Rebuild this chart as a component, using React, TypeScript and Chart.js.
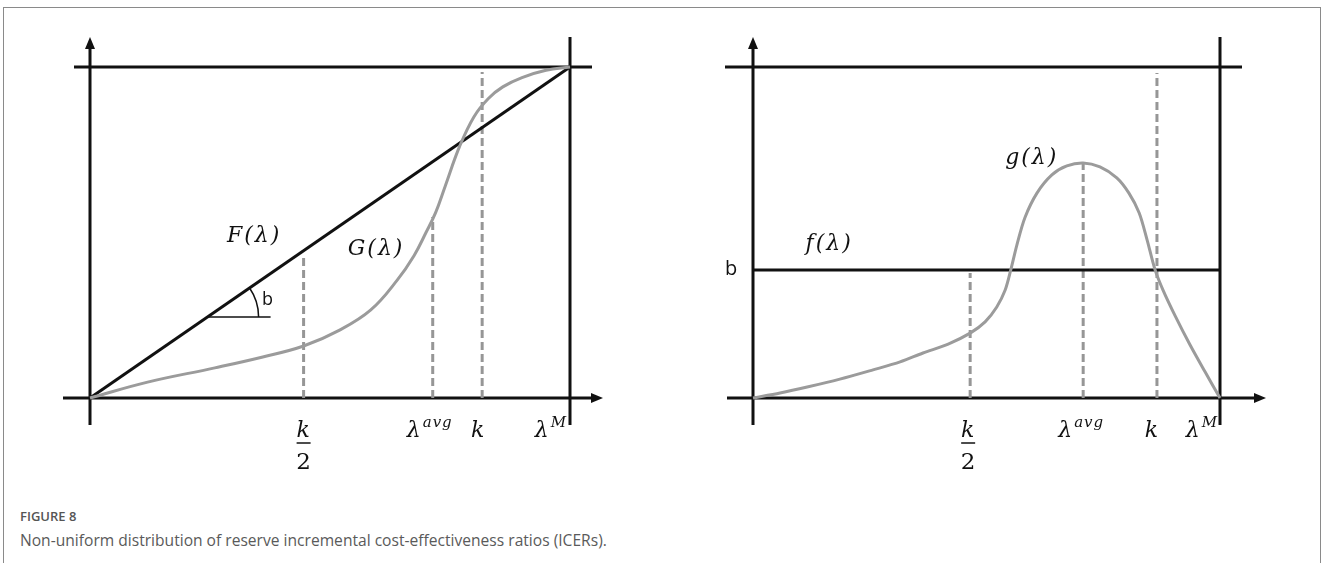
import React, { useEffect, useRef } from "react";
import { Chart, registerables } from "chart.js";

Chart.register(...registerables);

// ---------------- Data ----------------
const LAMBDA_MAX = 100;

// Left panel: cumulative distributions F(λ) (uniform) and G(λ) (non-uniform)
const cdfLambda = [0, 12, 26, 36, 44.5, 52, 58.5, 64, 67.5, 70, 72, 74, 77, 80, 83, 86, 90, 95, 100];
const cdfG = [0, 0.048, 0.091, 0.124, 0.157, 0.205, 0.266, 0.356, 0.43, 0.5, 0.56, 0.64, 0.76, 0.85, 0.905, 0.94, 0.968, 0.99, 1];
const cdfFLambda = [0, 100];
const cdfF = [0, 1];
const cdfMarkerLambda = [44.5, 71.4, 81.7]; // k/2, λavg, k
const cdfMarkerTop = [0.43, 0.547, 0.985];
const cdfTickLambda = [44.5, 71.4, 81.7, 100];

// Right panel: densities f(λ) (uniform, = b) and g(λ)
const pdfLambda = [0, 5.8, 11.6, 18.6, 25.7, 31.5, 36.4, 41.8, 46.5, 49.7, 52.2, 54.0, 55.2, 56.5, 58.2, 60.8, 64.0, 67.2, 70.7, 74.3, 77.9, 80.5, 82.7, 84.4, 86.1, 87.8, 90.4, 93.6, 96.8, 100];
const pdfG = [0, 0.015, 0.033, 0.057, 0.085, 0.109, 0.136, 0.163, 0.196, 0.23, 0.275, 0.326, 0.387, 0.462, 0.544, 0.619, 0.674, 0.701, 0.71, 0.698, 0.665, 0.619, 0.559, 0.477, 0.387, 0.326, 0.248, 0.16, 0.079, 0];
const pdfFLambda = [0, 100];
const pdfF = [0.387, 0.387];
const pdfMarkerLambda = [46.5, 70.7, 86.5];
const pdfMarkerTop = [0.378, 0.71, 0.982];
const pdfTickLambda = [46.5, 70.7, 86.5, 100];

// Tick labels: base symbol, superscript, denominator
const tickBase = ["k", "λ", "k", "λ"];
const tickSup = ["", "avg", "", "M"];
const tickDenom = ["2", "", "", ""];

// Curve labels
const cdfCurveNames = ["F(λ)", "G(λ)"];
const pdfCurveNames = ["f(λ)", "g(λ)"];
const slopeLabel = "b";

const CAPTION_TITLE = "FIGURE 8";
const CAPTION_TEXT = "Non-uniform distribution of reserve incremental cost-effectiveness ratios (ICERs).";

// ---------------- Styles ----------------
const BLACK = "#111111";
const GREY = "#9b9b9b";
const DASH_GREY = "#969696";
const MATH_FONT = 'italic 22px "DejaVu Serif"';
const SUP_FONT = 'italic 15px "DejaVu Serif"';
const NUM_FONT = '23px "DejaVu Serif"';
const SANS_LABEL = '20px "Open Sans"';

const zip = (xs: number[], ys: number[]) => xs.map((x, i) => ({ x, y: ys[i] }));

type PanelCfg = {
  kind: "cdf" | "pdf";
  xAxisExt: [number, number];
  topExt: [number, number];
  tickLambda: number[];
  tickShift: number[];
  tension: number;
  labels: { text: string; x: number; y: number }[];
};

function drawMathLabel(ctx: CanvasRenderingContext2D, base: string, sup: string, cx: number, baseline: number) {
  ctx.save();
  (ctx as any).letterSpacing = "1px";
  ctx.font = MATH_FONT;
  const wb = ctx.measureText(base).width;
  ctx.font = SUP_FONT;
  const ws = sup ? ctx.measureText(sup).width + 1 : 0;
  const start = cx - (wb + ws) / 2;
  ctx.fillStyle = BLACK;
  ctx.textAlign = "left";
  ctx.textBaseline = "alphabetic";
  ctx.font = MATH_FONT;
  ctx.fillText(base, start, baseline);
  if (sup) {
    ctx.font = SUP_FONT;
    ctx.fillText(sup, start + wb + 1, baseline - 10);
  }
  ctx.restore();
}

function framePlugin(cfg: PanelCfg) {
  return {
    id: "frame-" + cfg.kind,
    beforeDatasetsDraw(chart: any) {
      const ctx: CanvasRenderingContext2D = chart.ctx;
      const xs = chart.scales.x;
      const ys = chart.scales.y;
      const x0 = xs.getPixelForValue(0);
      const xM = xs.getPixelForValue(LAMBDA_MAX);
      const y0 = ys.getPixelForValue(0);
      const y1 = ys.getPixelForValue(1);
      ctx.save();
      ctx.strokeStyle = BLACK;
      ctx.fillStyle = BLACK;
      ctx.lineWidth = 3;
      ctx.lineCap = "butt";
      const line = (ax: number, ay: number, bx: number, by: number) => {
        ctx.beginPath();
        ctx.moveTo(ax, ay);
        ctx.lineTo(bx, by);
        ctx.stroke();
      };
      // y axis with arrow
      line(x0, y1 - 20, x0, y0 + 27);
      ctx.beginPath();
      ctx.moveTo(x0, y1 - 30);
      ctx.lineTo(x0 - 5, y1 - 18);
      ctx.lineTo(x0 + 5, y1 - 18);
      ctx.closePath();
      ctx.fill();
      // right vertical at λM
      line(xM, y1 - 30, xM, y0 + 27);
      // top line at 1
      line(x0 - cfg.topExt[0], y1, xM + cfg.topExt[1], y1);
      // x axis with arrow
      const xEnd = xM + cfg.xAxisExt[1];
      line(x0 - cfg.xAxisExt[0], y0, xEnd - 10, y0);
      ctx.beginPath();
      ctx.moveTo(xEnd, y0);
      ctx.lineTo(xEnd - 12, y0 - 5);
      ctx.lineTo(xEnd - 12, y0 + 5);
      ctx.closePath();
      ctx.fill();
      ctx.restore();
    },
    afterDatasetsDraw(chart: any) {
      const ctx: CanvasRenderingContext2D = chart.ctx;
      const xs = chart.scales.x;
      const ys = chart.scales.y;
      const y0 = ys.getPixelForValue(0);
      ctx.save();
      // tick labels
      cfg.tickLambda.forEach((v, i) => {
        const cx = xs.getPixelForValue(v) + cfg.tickShift[i];
        drawMathLabel(ctx, tickBase[i], tickSup[i], cx, y0 + 39);
        if (tickDenom[i]) {
          ctx.strokeStyle = BLACK;
          ctx.lineWidth = 1.5;
          ctx.beginPath();
          ctx.moveTo(cx - 7, y0 + 45);
          ctx.lineTo(cx + 7, y0 + 45);
          ctx.stroke();
          ctx.font = NUM_FONT;
          ctx.fillStyle = BLACK;
          ctx.textAlign = "center";
          ctx.textBaseline = "alphabetic";
          ctx.fillText(tickDenom[i], cx, y0 + 71);
        }
      });
      // curve labels
      cfg.labels.forEach((l) => {
        ctx.font = MATH_FONT;
        (ctx as any).letterSpacing = "2px";
        ctx.fillStyle = BLACK;
        ctx.textAlign = "center";
        ctx.textBaseline = "middle";
        ctx.fillText(l.text, xs.getPixelForValue(l.x), ys.getPixelForValue(l.y));
      });
      (ctx as any).letterSpacing = "0px";
      ctx.font = SANS_LABEL;
      ctx.fillStyle = BLACK;
      ctx.textBaseline = "middle";
      if (cfg.kind === "cdf") {
        // slope angle marker on F(λ)
        const yv = 0.245;
        const ax = xs.getPixelForValue(yv * LAMBDA_MAX);
        const ay = ys.getPixelForValue(yv);
        const ang = Math.atan2(ys.getPixelForValue(0) - ys.getPixelForValue(1), xs.getPixelForValue(LAMBDA_MAX) - xs.getPixelForValue(0));
        ctx.strokeStyle = BLACK;
        ctx.lineWidth = 1.5;
        ctx.beginPath();
        ctx.moveTo(ax, ay);
        ctx.lineTo(ax + 63, ay);
        ctx.stroke();
        ctx.beginPath();
        ctx.arc(ax, ay, 51, -ang, 0);
        ctx.stroke();
        ctx.font = '18px "Open Sans"';
        ctx.textAlign = "center";
        ctx.fillText(slopeLabel, ax + 60, ay - 17);
      } else {
        ctx.textAlign = "center";
        ctx.fillText(slopeLabel, xs.getPixelForValue(0) - 22, ys.getPixelForValue(pdfF[0]) - 1);
      }
      ctx.restore();
    },
  };
}

function buildDatasets(cfg: PanelCfg) {
  const kind = cfg.kind;
  const solidLambda = kind === "cdf" ? cdfFLambda : pdfFLambda;
  const solidVals = kind === "cdf" ? cdfF : pdfF;
  const curveLambda = kind === "cdf" ? cdfLambda : pdfLambda;
  const curveVals = kind === "cdf" ? cdfG : pdfG;
  const markX = kind === "cdf" ? cdfMarkerLambda : pdfMarkerLambda;
  const markTop = kind === "cdf" ? cdfMarkerTop : pdfMarkerTop;
  const ds: any[] = [];
  markX.forEach((m, i) => {
    ds.push({
      data: [{ x: m, y: 0 }, { x: m, y: markTop[i] }],
      borderColor: DASH_GREY,
      borderWidth: 3,
      borderDash: [8, 4],
      pointRadius: 0,
      clip: false,
      order: 3,
    });
  });
  ds.push({
    data: zip(solidLambda, solidVals),
    borderColor: BLACK,
    borderWidth: 3,
    pointRadius: 0,
    clip: false,
    order: 2,
  });
  ds.push({
    data: zip(curveLambda, curveVals),
    borderColor: GREY,
    borderWidth: 3,
    pointRadius: 0,
    tension: cfg.tension,
    clip: false,
    order: 1,
  });
  return ds;
}

function Panel({ cfg, left, width, height, padding }: { cfg: PanelCfg; left: number; width: number; height: number; padding: any }) {
  const ref = useRef<HTMLCanvasElement | null>(null);
  useEffect(() => {
    if (!ref.current) return;
    const chart = new Chart(ref.current, {
      type: "line",
      data: { datasets: buildDatasets(cfg) },
      options: {
        responsive: false,
        maintainAspectRatio: false,
        animation: false,
        events: [],
        layout: { padding },
        plugins: { legend: { display: false }, tooltip: { enabled: false }, title: { display: false } },
        scales: {
          x: { type: "linear", min: 0, max: LAMBDA_MAX, display: false },
          y: { type: "linear", min: 0, max: 1, display: false },
        },
      } as any,
      plugins: [framePlugin(cfg) as any],
    });
    return () => chart.destroy();
  }, []);
  return (
    <canvas
      ref={ref}
      width={width}
      height={height}
      style={{ position: "absolute", left, top: 0, width, height }}
    />
  );
}

const leftCfg: PanelCfg = {
  kind: "cdf",
  xAxisExt: [27, 33],
  topExt: [16, 22],
  tickLambda: cdfTickLambda,
  tickShift: [0, -3, -4, -19],
  tension: 0.4,
  labels: [
    { text: cdfCurveNames[0], x: 34.2, y: 0.489 },
    { text: cdfCurveNames[1], x: 59.6, y: 0.45 },
  ],
};

const rightCfg: PanelCfg = {
  kind: "pdf",
  xAxisExt: [26, 46],
  topExt: [28, 22],
  tickLambda: pdfTickLambda,
  tickShift: [-2, -2, -5, -18],
  tension: 0.3,
  labels: [
    { text: pdfCurveNames[0], x: 16.3, y: 0.465 },
    { text: pdfCurveNames[1], x: 59.7, y: 0.725 },
  ],
};

export default function App() {
  return (
    <div
      style={{
        position: "fixed",
        left: 0,
        top: 0,
        width: 1327,
        height: 563,
        background: "#ffffff",
        overflow: "hidden",
      }}
    >
      <div
        style={{
          position: "absolute",
          left: 3,
          top: 7,
          width: 1318,
          height: 600,
          border: "1px solid #8a8a8a",
          boxSizing: "border-box",
        }}
      />
      <Panel cfg={leftCfg} left={0} width={663} height={490} padding={{ left: 90, right: 93, top: 67, bottom: 92 }} />
      <Panel cfg={rightCfg} left={663} width={664} height={490} padding={{ left: 90, right: 107, top: 67, bottom: 92 }} />
      <div
        style={{
          position: "absolute",
          left: 20,
          top: 507,
          fontFamily: '"Open Sans", sans-serif',
          fontSize: 13,
          fontWeight: 600,
          color: "#555555",
          lineHeight: "18px",
          whiteSpace: "nowrap",
        }}
      >
        {CAPTION_TITLE}
      </div>
      <div
        style={{
          position: "absolute",
          left: 20,
          top: 529,
          fontFamily: '"Open Sans", sans-serif',
          fontSize: 15.6,
          fontWeight: 400,
          color: "#5a5a5a",
          lineHeight: "22px",
          whiteSpace: "nowrap",
        }}
      >
        {CAPTION_TEXT}
      </div>
    </div>
  );
}
